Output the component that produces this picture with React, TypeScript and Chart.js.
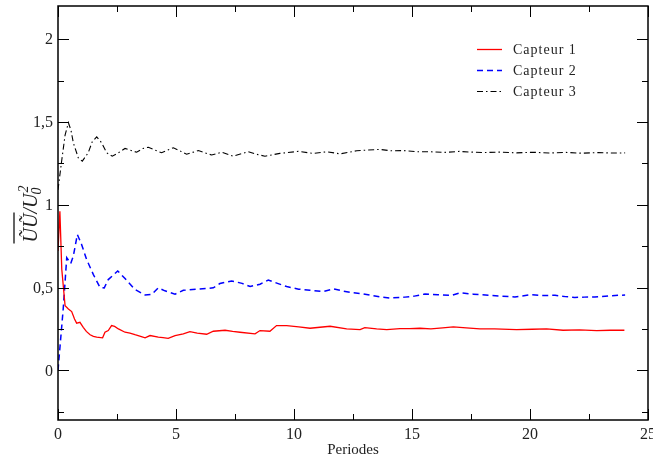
import React, { useEffect, useRef } from "react";
import { Chart, registerables } from "chart.js";

Chart.register(...registerables);

const capteur1X = [0, 0.08, 0.16, 0.3, 0.44, 0.58, 0.7, 0.79, 0.93, 1.07, 1.2, 1.36, 1.5, 1.64, 1.89, 1.99, 2.13, 2.27, 2.4, 2.56, 2.84, 3.05, 3.26, 3.5, 3.69, 3.9, 4.25, 4.45, 4.67, 4.96, 5.31, 5.59, 5.9, 6.3, 6.58, 7.08, 7.4, 7.71, 8.35, 8.56, 8.98, 9.26, 9.69, 10.2, 10.68, 11.1, 11.53, 12.23, 12.8, 13.0, 13.5, 13.93, 14.49, 14.9, 15.34, 15.8, 16.3, 16.75, 17.3, 17.88, 18.5, 19.43, 20.1, 20.7, 21.4, 22.1, 22.83, 23.4, 24.0];
const capteur1Y = [0.72, 0.96, 0.61, 0.39, 0.37, 0.355, 0.31, 0.285, 0.29, 0.26, 0.235, 0.215, 0.205, 0.2, 0.196, 0.23, 0.24, 0.27, 0.265, 0.25, 0.23, 0.225, 0.215, 0.205, 0.196, 0.21, 0.2, 0.198, 0.193, 0.21, 0.22, 0.234, 0.225, 0.218, 0.236, 0.242, 0.235, 0.23, 0.22, 0.24, 0.236, 0.27, 0.27, 0.262, 0.254, 0.26, 0.266, 0.25, 0.246, 0.258, 0.25, 0.246, 0.252, 0.252, 0.254, 0.25, 0.256, 0.262, 0.256, 0.25, 0.25, 0.246, 0.248, 0.25, 0.242, 0.244, 0.24, 0.242, 0.242];

const capteur2X = [0, 0.22, 0.37, 0.54, 0.65, 0.82, 1.0, 1.21, 1.5, 1.78, 1.96, 2.13, 2.53, 2.84, 3.26, 3.69, 3.97, 4.25, 4.53, 4.96, 5.31, 5.87, 6.58, 6.86, 7.36, 7.8, 8.14, 8.56, 8.91, 9.3, 9.69, 10.2, 10.68, 11.24, 11.67, 12.1, 12.51, 12.93, 13.36, 13.7, 14.07, 14.7, 15.1, 15.55, 16.1, 16.68, 17.03, 17.6, 18.23, 18.8, 19.36, 20.07, 20.5, 21.06, 21.5, 21.9, 22.3, 22.75, 23.4, 24.03];
const capteur2Y = [0, 0.37, 0.68, 0.645, 0.69, 0.82, 0.76, 0.67, 0.578, 0.5, 0.498, 0.548, 0.6, 0.554, 0.488, 0.455, 0.458, 0.498, 0.48, 0.46, 0.483, 0.49, 0.498, 0.524, 0.54, 0.525, 0.506, 0.52, 0.545, 0.525, 0.506, 0.49, 0.483, 0.476, 0.492, 0.478, 0.468, 0.462, 0.451, 0.442, 0.437, 0.442, 0.448, 0.461, 0.456, 0.453, 0.468, 0.46, 0.453, 0.448, 0.443, 0.457, 0.452, 0.453, 0.445, 0.44, 0.442, 0.443, 0.45, 0.455];

const capteur3X = [0, 0.16, 0.3, 0.44, 0.55, 0.65, 0.86, 1.03, 1.28, 1.45, 1.64, 1.85, 2.06, 2.3, 2.56, 2.84, 3.05, 3.33, 3.6, 3.83, 4.1, 4.39, 4.65, 4.89, 5.1, 5.45, 5.95, 6.51, 6.94, 7.43, 8.06, 8.4, 8.77, 9.4, 10.18, 10.82, 11.39, 11.95, 12.66, 13.1, 13.64, 14.1, 14.63, 15.2, 15.76, 16.4, 17.0, 17.46, 18.1, 18.7, 19.43, 20.1, 20.8, 21.5, 22.2, 22.9, 23.5, 24.03];
const capteur3Y = [1.09, 1.27, 1.42, 1.495, 1.45, 1.374, 1.283, 1.263, 1.314, 1.38, 1.41, 1.374, 1.314, 1.293, 1.314, 1.34, 1.33, 1.317, 1.34, 1.347, 1.33, 1.314, 1.33, 1.344, 1.33, 1.305, 1.327, 1.3, 1.317, 1.293, 1.32, 1.305, 1.293, 1.31, 1.322, 1.31, 1.32, 1.307, 1.326, 1.33, 1.334, 1.326, 1.327, 1.32, 1.32, 1.316, 1.322, 1.318, 1.315, 1.318, 1.313, 1.317, 1.312, 1.316, 1.311, 1.315, 1.312, 1.313];

const seriesNames = ["Capteur 1", "Capteur 2", "Capteur 3"];
const xMajorTicks = [0, 5, 10, 15, 20, 25];
const xMinorTicks = [2.5, 7.5, 12.5, 17.5, 22.5];
const yMajorTicks = [0, 0.5, 1, 1.5, 2];
const yMajorLabels = ["0", "0,5", "1", "1,5", "2"];
const yMinorTicks = [-0.25, 0.25, 0.75, 1.25, 1.75];
const xTitle = "Periodes";

const colors = ["#ff0000", "#0000ff", "#000000"];
const dashes: number[][] = [[], [6, 4], [6, 3, 1.5, 3]];
const widths = [1.3, 1.5, 1.1];

const pts = (xs: number[], ys: number[]) => xs.map((x, i) => ({ x, y: ys[i] }));

const decorPlugin = {
  id: "decor",
  afterDraw(chart: any) {
    const ctx: CanvasRenderingContext2D = chart.ctx;
    const { left, right, top, bottom } = chart.chartArea;
    const xs = chart.scales.x;
    const ys = chart.scales.y;
    ctx.save();
    ctx.strokeStyle = "#000";
    ctx.lineWidth = 1.5;
    ctx.strokeRect(left, top, right - left, bottom - top);
    ctx.lineWidth = 1;
    const tick = (x1: number, y1: number, x2: number, y2: number) => {
      ctx.beginPath();
      ctx.moveTo(x1, y1);
      ctx.lineTo(x2, y2);
      ctx.stroke();
    };
    xMajorTicks.forEach((v) => {
      const px = Math.round(xs.getPixelForValue(v)) + 0.5;
      tick(px, bottom, px, bottom - 11);
      tick(px, top, px, top + 11);
    });
    xMinorTicks.forEach((v) => {
      const px = Math.round(xs.getPixelForValue(v)) + 0.5;
      tick(px, bottom, px, bottom - 6);
      tick(px, top, px, top + 6);
    });
    yMajorTicks.forEach((v) => {
      const py = Math.round(ys.getPixelForValue(v)) + 0.5;
      tick(left, py, left + 11, py);
      tick(right, py, right - 11, py);
    });
    yMinorTicks.forEach((v) => {
      const py = Math.round(ys.getPixelForValue(v)) + 0.5;
      tick(left, py, left + 6, py);
      tick(right, py, right - 6, py);
    });

    ctx.fillStyle = "#222";
    ctx.font = '16px "Liberation Serif"';
    ctx.textAlign = "center";
    ctx.textBaseline = "alphabetic";
    xMajorTicks.forEach((v) => {
      ctx.fillText(String(v), xs.getPixelForValue(v), 439);
    });
    ctx.textAlign = "right";
    ctx.textBaseline = "middle";
    yMajorTicks.forEach((v, i) => {
      ctx.fillText(yMajorLabels[i], left - 5, ys.getPixelForValue(v) + 1);
    });

    ctx.font = '15px "Liberation Serif"';
    ctx.textAlign = "center";
    ctx.textBaseline = "alphabetic";
    ctx.fillText(xTitle, (left + right) / 2, 454);

    // legend
    ctx.font = '14px "Liberation Serif"';
    (ctx as any).letterSpacing = "1px";
    ctx.textAlign = "left";
    ctx.textBaseline = "middle";
    const legY = [49, 70, 91];
    seriesNames.forEach((name, i) => {
      ctx.save();
      ctx.strokeStyle = colors[i];
      ctx.lineWidth = widths[i];
      ctx.setLineDash(dashes[i]);
      tick(477, legY[i] + 0.5, 502, legY[i] + 0.5);
      ctx.restore();
      ctx.fillStyle = "#222";
      ctx.fillText(name, 513, legY[i] + 1);
    });
    (ctx as any).letterSpacing = "0px";

    // y title
    ctx.save();
    ctx.translate(37, 214);
    ctx.rotate(-Math.PI / 2);
    ctx.fillStyle = "#222";
    ctx.textAlign = "left";
    ctx.textBaseline = "alphabetic";
    const big = 'italic 20px "Liberation Serif"';
    const small = 'italic 14px "Liberation Serif"';
    ctx.font = big;
    const wUU = ctx.measureText("ŨŨ").width;
    const wSlash = ctx.measureText("/").width;
    const wU = ctx.measureText("U").width;
    ctx.font = small;
    const wSub = ctx.measureText("0").width;
    const total = wUU + wSlash + wU + wSub + 1;
    let x0 = -total / 2;
    ctx.font = big;
    ctx.fillText("ŨŨ", x0, 0);
    ctx.strokeStyle = "#222";
    ctx.lineWidth = 1.4;
    ctx.beginPath();
    ctx.moveTo(x0 - 1, -23);
    ctx.lineTo(x0 + wUU + 1, -23);
    ctx.stroke();
    x0 += wUU;
    ctx.fillText("/", x0, 0);
    x0 += wSlash;
    ctx.fillText("U", x0, 0);
    x0 += wU;
    ctx.font = small;
    ctx.fillText("0", x0 - 1, 4);
    ctx.fillText("2", x0 + 1, -9);
    ctx.restore();

    ctx.restore();
  },
};

export default function App() {
  const ref = useRef<HTMLCanvasElement>(null);
  useEffect(() => {
    document.body.style.margin = "0";
    const canvas = ref.current!;
    const chart = new Chart(canvas, {
      type: "line",
      data: {
        datasets: [
          { label: seriesNames[0], data: pts(capteur1X, capteur1Y) },
          { label: seriesNames[1], data: pts(capteur2X, capteur2Y) },
          { label: seriesNames[2], data: pts(capteur3X, capteur3Y) },
        ].map((d, i) => ({
          ...d,
          borderColor: colors[i],
          backgroundColor: colors[i],
          borderWidth: widths[i],
          borderDash: dashes[i],
          pointRadius: 0,
          tension: 0,
          fill: false,
        })),
      },
      options: {
        animation: false,
        responsive: false,
        maintainAspectRatio: false,
        layout: { padding: { left: 58, right: 5, top: 6, bottom: 39 } },
        scales: {
          x: { type: "linear", min: 0, max: 25, display: false },
          y: { type: "linear", min: -0.3, max: 2.2, display: false },
        },
        plugins: { legend: { display: false }, tooltip: { enabled: false } },
      },
      plugins: [decorPlugin],
    });
    return () => chart.destroy();
  }, []);
  return (
    <div style={{ width: 653, height: 459, background: "#fff" }}>
      <canvas ref={ref} width={653} height={459} style={{ display: "block" }} />
    </div>
  );
}
